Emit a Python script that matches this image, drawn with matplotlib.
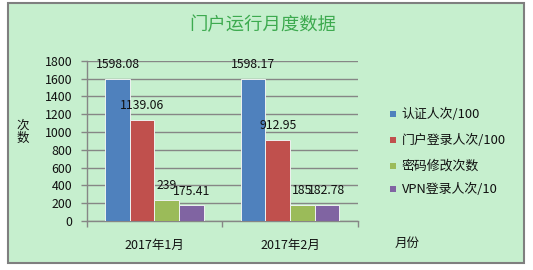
import matplotlib
matplotlib.use("Agg")
import matplotlib.pyplot as plt
from matplotlib.patches import Rectangle
import numpy as np

plt.rcParams['font.family'] = ['Noto Sans CJK SC', 'DejaVu Sans']

categories = ['2017年1月', '2017年2月']
series_names = ['认证人次/100', '门户登录人次/100', '密码修改次数', 'VPN登录人次/10']
values = {
    '认证人次/100': [1598.08, 1598.17],
    '门户登录人次/100': [1139.06, 912.95],
    '密码修改次数': [239, 185],
    'VPN登录人次/10': [175.41, 182.78],
}
label_texts = {
    '认证人次/100': ['1598.08', '1598.17'],
    '门户登录人次/100': ['1139.06', '912.95'],
    '密码修改次数': ['239', '185'],
    'VPN登录人次/10': ['175.41', '182.78'],
}
colors = ['#4F81BD', '#C0504D', '#9BBB59', '#8064A2']
y_ticks = list(range(0, 1801, 200))

W, H = 533, 270
fig = plt.figure(figsize=(W / 100, H / 100), dpi=100)
fig.patch.set_facecolor('white')

def fx(x):
    return x / W

def fy(y):
    return 1 - y / H

# green panel with grey border
panel = Rectangle((fx(7.5), fy(263)), fx(523.5) - fx(7.5), fy(3) - fy(263),
                  transform=fig.transFigure, facecolor='#C6EFCE',
                  edgecolor='#7F7F7F', linewidth=1.5, zorder=-5)
fig.patches.append(panel)

left, right, top, bottom = 86.7, 357.7, 60.7, 221
ax = fig.add_axes([fx(left), fy(bottom), fx(right) - fx(left), fy(top) - fy(bottom)])
ax.set_facecolor('none')
ax.set_zorder(1)

n = len(series_names)
w = 1 / 5.5
x = np.arange(len(categories))
for i, name in enumerate(series_names):
    pos = x + (i - (n - 1) / 2) * w
    ax.bar(pos, values[name], width=w, color=colors[i], edgecolor='#EEF2F0',
           linewidth=0.7, zorder=3)
    for xp, v, t in zip(pos, values[name], label_texts[name]):
        ax.annotate(t, (xp, v), xytext=(0, 10.2), textcoords='offset points',
                    ha='center', va='center', fontsize=8.8, color='#111111',
                    zorder=5)

ax.set_xlim(-0.5, len(categories) - 0.5)
ax.set_ylim(0, 1800)
ax.set_yticks(y_ticks)
ax.set_yticklabels([str(t) for t in y_ticks], fontsize=8.9, color='#111111')
ax.yaxis.grid(True, color='#868686', linewidth=1.0, zorder=1)
ax.set_axisbelow(True)

ax.set_xticks(x)
ax.set_xticklabels(categories, fontsize=9, color='#111111')
ax.set_xticks(np.arange(len(categories) + 1) - 0.5, minor=True)
ax.tick_params(axis='x', which='major', length=0, pad=13)
ax.tick_params(axis='x', which='minor', length=4.5, width=1.0, color='#868686')
ax.tick_params(axis='y', length=4, width=1.0, color='#868686', pad=6.5)

for s in ['top', 'right']:
    ax.spines[s].set_visible(False)
for s in ['left', 'bottom']:
    ax.spines[s].set_color('#868686')
    ax.spines[s].set_linewidth(1.0)

# title
fig.text(fx(262.5), fy(25), '门户运行月度数据', ha='center', va='center',
         fontsize=13.2, color='#3DAA4F')

# y axis title (stacked)
fig.text(fx(23), fy(125.5), '次', ha='center', va='center', fontsize=9, color='#111111')
fig.text(fx(23), fy(138.5), '数', ha='center', va='center', fontsize=9, color='#111111')

# x axis title
fig.text(fx(407), fy(243), '月份', ha='center', va='center', fontsize=9, color='#111111')

# legend
leg_y = [114.3, 140, 166, 189.3]
for i, name in enumerate(series_names):
    fig.patches.append(Rectangle((fx(390), fy(leg_y[i] + 3)), fx(6), 6 / H,
                                 transform=fig.transFigure, facecolor=colors[i],
                                 edgecolor='none', zorder=5))
    fig.text(fx(401.7), fy(leg_y[i]), name, ha='left', va='center',
             fontsize=9.3, color='#111111')

fig.savefig('out.png', dpi=100)
